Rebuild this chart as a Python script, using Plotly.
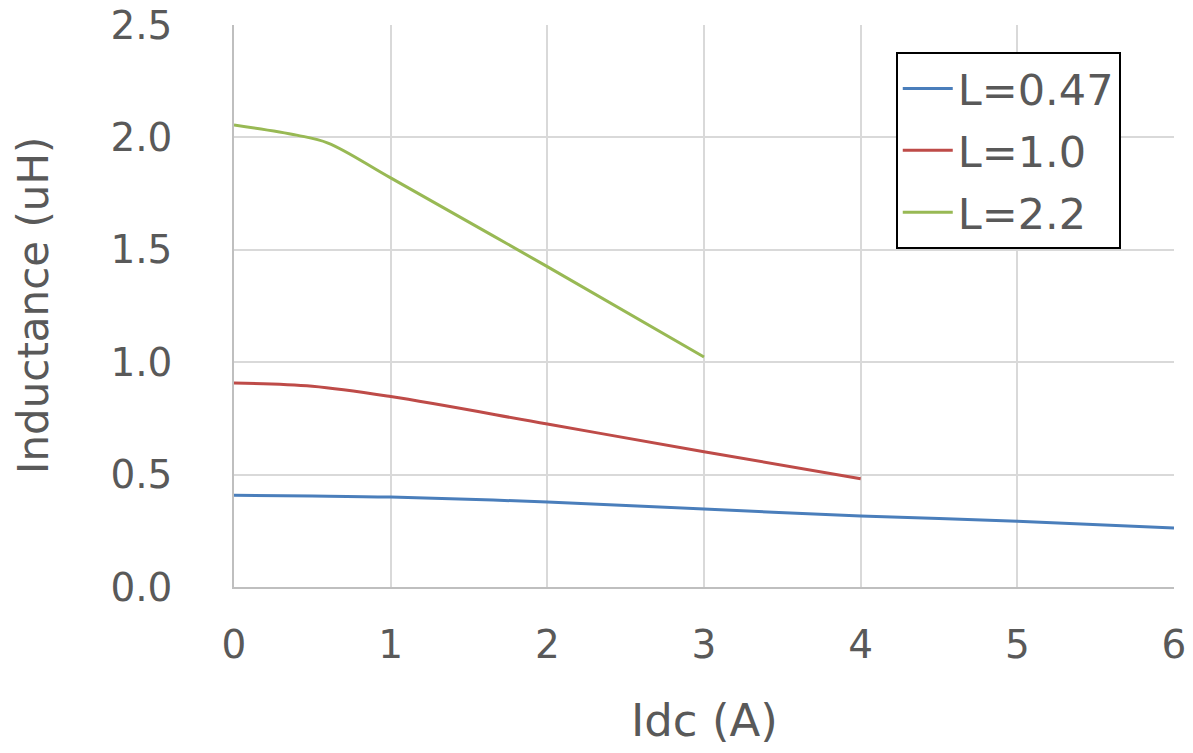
import plotly.graph_objects as go

idc = [0, 0.5, 1, 2, 3, 4, 5, 6]
l047 = [0.408, 0.405, 0.400, 0.378, 0.347, 0.316, 0.293, 0.262]
idc_10 = [0, 0.5, 1, 2, 3, 4]
l10 = [0.907, 0.893, 0.847, 0.725, 0.602, 0.482]
idc_22 = [0, 0.4, 0.6, 1, 2, 3]
l22 = [2.055, 2.010, 1.975, 1.820, 1.425, 1.023]

xticks = [0, 1, 2, 3, 4, 5, 6]
yticks = [0.0, 0.5, 1.0, 1.5, 2.0, 2.5]

fam = "DejaVu Sans, Verdana, sans-serif"
grey = "#595959"

fig = go.Figure()
fig.add_trace(go.Scatter(x=idc, y=l047, mode="lines", name="L=0.47", legendgroup="a",
                         line=dict(color="#4a7ebb", width=3, shape="spline")))
fig.add_trace(go.Scatter(x=idc_10, y=l10, mode="lines", name="L=1.0", legendgroup="b",
                         line=dict(color="#be4b48", width=3, shape="spline")))
fig.add_trace(go.Scatter(x=idc_22, y=l22, mode="lines", name="L=2.2", legendgroup="c",
                         line=dict(color="#98b954", width=3, shape="spline")))

fig.update_layout(
    width=1193, height=753,
    margin=dict(l=234, r=19, t=25, b=166),
    paper_bgcolor="white", plot_bgcolor="white",
    font=dict(family=fam, size=39, color=grey),
    legend=dict(x=0.704, y=0.952, xanchor="left", yanchor="top",
                bordercolor="black", borderwidth=2, bgcolor="white",
                font=dict(family=fam, size=43, color=grey),
                itemwidth=50, tracegroupgap=3),
    xaxis=dict(range=[0, 6], tickvals=xticks, ticktext=[str(v) for v in xticks],
               showgrid=True, gridcolor="#d9d9d9", gridwidth=1.5,
               zeroline=False, showline=True, linecolor="#bfbfbf", linewidth=1.5,
               ticks="", ticklen=0, ticklabelstandoff=22, automargin=False,
               ticklabeloverflow="allow",
               tickfont=dict(family=fam, size=39, color=grey)),
    yaxis=dict(range=[0, 2.5], tickvals=yticks, ticktext=[f"{v:.1f}" for v in yticks],
               showgrid=True, gridcolor="#d9d9d9", gridwidth=1.5,
               zeroline=False, showline=True, linecolor="#bfbfbf", linewidth=1.5,
               ticks="", ticklen=0, ticklabelstandoff=52, automargin=False,
               ticklabeloverflow="allow",
               tickfont=dict(family=fam, size=39, color=grey)),
    annotations=[
        dict(text="Idc (A)", xref="paper", yref="paper", x=0.5, y=0,
             xanchor="center", yanchor="middle", yshift=-133, showarrow=False,
             font=dict(family=fam, size=45, color=grey)),
        dict(text="Inductance (uH)", xref="paper", yref="paper", x=0, y=0.5,
             xanchor="center", yanchor="middle", xshift=-201, textangle=-90,
             showarrow=False, font=dict(family=fam, size=42, color=grey)),
    ],
)

fig.write_html("out.html", config={"displayModeBar": False},
               post_script="document.body.style.margin='0';")
